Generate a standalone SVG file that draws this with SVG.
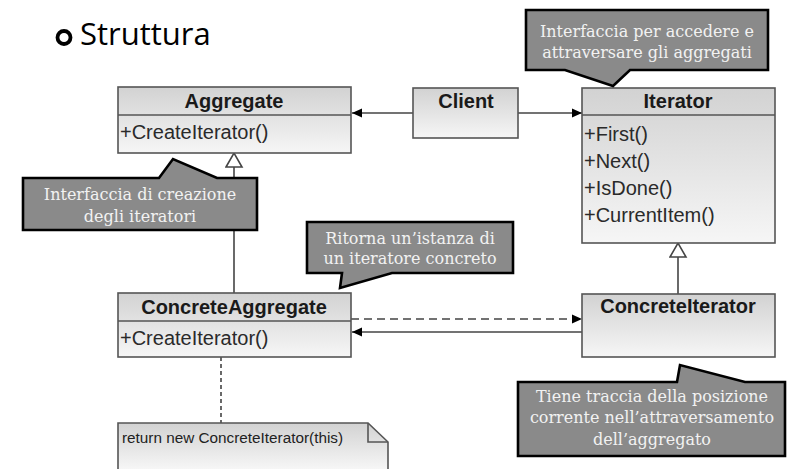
<svg xmlns="http://www.w3.org/2000/svg" width="787" height="469" viewBox="0 0 787 469">
<style>
.box{stroke:#555;stroke-width:1.6;fill:url(#g)}
.div{stroke:#555;stroke-width:1.6}
.hd{font-family:"Liberation Sans",Arial,sans-serif;font-weight:bold;font-size:20px;fill:#1a1a1a;text-anchor:middle}
.mt{font-family:"Liberation Sans",Arial,sans-serif;font-size:20px;fill:#2a2a2a}
.co{fill:#8a8a8a;stroke:#000;stroke-width:2.6;stroke-linejoin:miter}
.ct{font-family:"DejaVu Serif","Liberation Serif",serif;font-size:16px;fill:#f2f2f2;text-anchor:middle}
.ln{stroke:#444;stroke-width:1.6;fill:none}
</style>
<defs>
<linearGradient id="g" x1="0" y1="0" x2="0" y2="1">
<stop offset="0" stop-color="#d2d2d2"/>
<stop offset="1" stop-color="#f6f6f6"/>
</linearGradient>
<marker id="arr" markerUnits="userSpaceOnUse" markerWidth="10" markerHeight="10" refX="10" refY="5" orient="auto">
<path d="M0,0.5 L10,5 L0,9.5 z" fill="#000"/>
</marker>
<marker id="inh" markerUnits="userSpaceOnUse" markerWidth="18" markerHeight="20" refX="15" refY="9" orient="auto">
<path d="M1,1 L15,9 L1,17 z" fill="#fff" stroke="#444" stroke-width="1.6"/>
</marker>
</defs>
<rect width="787" height="469" fill="#fff"/>

<g id="title">
<circle cx="64" cy="37.5" r="6.5" fill="none" stroke="#000" stroke-width="3.8"/>
<text x="80" y="45" font-family="'Open Sans','Noto Sans',sans-serif" font-size="31" fill="#000">Struttura</text>
</g>

<g id="connectors">
<line class="ln" x1="413" y1="113" x2="352" y2="113" marker-end="url(#arr)"/>
<line class="ln" x1="518" y1="113" x2="582" y2="113" marker-end="url(#arr)"/>
<line class="ln" x1="234" y1="293" x2="234" y2="153" marker-end="url(#inh)"/>
<line class="ln" x1="678" y1="294" x2="678" y2="243" marker-end="url(#inh)"/>
<line class="ln" x1="351" y1="319" x2="582" y2="319" stroke-dasharray="8 5" marker-end="url(#arr)"/>
<line class="ln" x1="582" y1="332" x2="352" y2="332" marker-end="url(#arr)"/>
<line class="ln" x1="221" y1="357" x2="221" y2="423" stroke-dasharray="4 3"/>
</g>

<g id="aggregate">
<rect class="box" x="118" y="87" width="233" height="66"/>
<line class="div" x1="118" y1="115" x2="351" y2="115"/>
<text class="hd" x="234" y="108">Aggregate</text>
<text class="mt" x="120" y="139">+CreateIterator()</text>
</g>

<g id="client">
<rect class="box" x="413" y="88" width="105" height="50"/>
<text class="hd" x="466" y="108">Client</text>
</g>

<g id="iterator">
<rect class="box" x="582" y="88" width="193" height="155"/>
<line class="div" x1="582" y1="115" x2="775" y2="115"/>
<text class="hd" x="678" y="108">Iterator</text>
<text class="mt" x="584" y="141">+First()</text>
<text class="mt" x="584" y="168">+Next()</text>
<text class="mt" x="584" y="195">+IsDone()</text>
<text class="mt" x="584" y="222">+CurrentItem()</text>
</g>

<g id="concreteAggregate">
<rect class="box" x="118" y="293" width="233" height="64"/>
<line class="div" x1="118" y1="321" x2="351" y2="321"/>
<text class="hd" x="234" y="314">ConcreteAggregate</text>
<text class="mt" x="120" y="345">+CreateIterator()</text>
</g>

<g id="concreteIterator">
<rect class="box" x="582" y="294" width="193" height="63"/>
<text class="hd" x="678" y="313">ConcreteIterator</text>
</g>

<g id="note">
<path d="M118,469 L118,423 L368,423 L388,442 L388,469" fill="url(#g)" stroke="#555" stroke-width="1.6"/>
<path d="M368,423 L368,442 L388,442" fill="none" stroke="#555" stroke-width="1.6"/>
<text x="122" y="443" font-family="'Liberation Sans',Arial,sans-serif" font-size="15.3" fill="#222">return new ConcreteIterator(this)</text>
</g>

<g id="calloutIterator">
<path class="co" d="M526,10 L768,10 L768,70 L630,70 L613,86 L565,70 L526,70 Z"/>
<text class="ct" x="647" y="37">Interfaccia per accedere e</text>
<text class="ct" x="647" y="58">attraversare gli aggregati</text>
</g>

<g id="calloutAggregate">
<path class="co" d="M23,178 L159,178 L173,159 L217,178 L257,178 L257,230 L23,230 Z"/>
<text class="ct" x="140" y="200">Interfaccia di creazione</text>
<text class="ct" x="140" y="222">degli iteratori</text>
</g>

<g id="calloutConcreteAggregate">
<path class="co" d="M307,222 L513,222 L513,273 L392,273 L340,288 L342,273 L307,273 Z"/>
<text class="ct" x="410" y="244">Ritorna un’istanza di</text>
<text class="ct" x="410" y="264">un iteratore concreto</text>
</g>

<g id="calloutConcreteIterator">
<path class="co" d="M518,382 L677,382 L680,365 L745,382 L785,382 L785,456 L518,456 Z"/>
<text class="ct" x="652" y="402">Tiene traccia della posizione</text>
<text class="ct" x="652" y="423">corrente nell’attraversamento</text>
<text class="ct" x="652" y="445">dell’aggregato</text>
</g>
</svg>
